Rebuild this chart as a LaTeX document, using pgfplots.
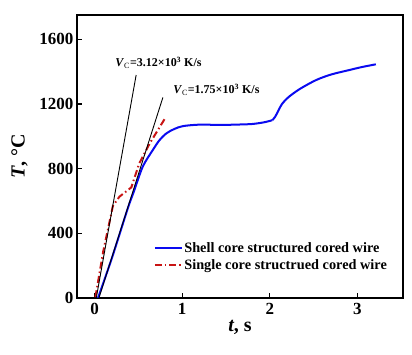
\documentclass[border=0pt]{standalone}
\usepackage{fontspec}
\setmainfont{Liberation Serif}
\usepackage{pgfplots}
\pgfplotsset{compat=1.18}

\definecolor{curveblue}{RGB}{10,10,240}
\definecolor{curvered}{RGB}{200,20,20}

\begin{document}
\begin{tikzpicture}
\begin{axis}[
    scale only axis,
    width=326pt, height=283pt,
    xmin=-0.2, xmax=3.52,
    ymin=0, ymax=1750,
    xtick={0,1,2,3},
    ytick={0,400,800,1200,1600},
    tick align=inside,
    xtick pos=bottom, ytick pos=left,
    major tick length=5pt,
    tick style={line width=1.3pt, black},
    axis line style={line width=1.6pt},
    /pgf/number format/assume math mode=true,
    /pgf/number format/1000 sep={},
    ticklabel style={font=\fontsize{17}{19}\selectfont\bfseries},
    xticklabel style={yshift=-2pt},
    xlabel={\textbf{\textit{t}, s}},
    ylabel={\textbf{\textit{T}, °C}},
    label style={font=\fontsize{20}{22}\selectfont},
    xlabel style={yshift=2pt},
    ylabel style={yshift=5pt},
    legend style={draw=none, fill=none, at={(rel axis cs:0.232,0.205)}, anchor=north west,
        font=\fontsize{14.3}{16}\selectfont\bfseries, row sep=2pt,
        inner sep=1pt, nodes={inner sep=1.5pt}},
    legend cell align=left,
    legend image code/.code={\draw[#1] (0pt,0pt) -- (27pt,0pt);},
]
\addplot[curveblue, line width=2pt, smooth, tension=0.5] coordinates {
    (0.04,0) (0.2,250) (0.38,555) (0.45,660) (0.55,812) (0.665,915)
    (0.74,975) (0.82,1018) (0.91,1045) (1.01,1063) (1.2,1072)
    (1.43,1070) (1.6,1072) (1.80,1076) (1.95,1088) (2.03,1100)
};
\addplot[curveblue, line width=2pt, smooth, tension=0.5, forget plot] coordinates {
    (2.03,1100) (2.06,1120) (2.09,1150) (2.14,1200) (2.22,1245)
    (2.35,1295) (2.53,1348) (2.70,1382) (2.91,1410) (3.05,1428) (3.21,1445)
};
\addplot[curvered, line width=2pt, dash pattern=on 7pt off 3pt on 1.5pt off 3pt] coordinates {
    (0.01,5) (0.1,290) (0.21,570) (0.285,627) (0.42,684)
    (0.51,832) (0.63,956) (0.80,1107)
};
\addplot[black, line width=0.9pt, forget plot] coordinates {(0.02,0) (0.475,1379)};
\addplot[black, line width=0.9pt, forget plot] coordinates {(0.05,0) (0.78,1240)};
\node[font=\fontsize{12}{14}\selectfont\bfseries] at (axis cs:0.73,1453)
    {\textit{V}$_{\mathrm{C}}$=3.12×10$^{\mathbf{3}}$ K/s};
\node[font=\fontsize{12}{14}\selectfont\bfseries] at (axis cs:1.39,1286)
    {\textit{V}$_{\mathrm{C}}$=1.75×10$^{\mathbf{3}}$ K/s};
\legend{Shell core structured cored wire, Single core structrued cored wire}
\end{axis}
\pgfresetboundingbox
\useasboundingbox ([shift={(-77pt,-57pt)}]current axis.south west)
    rectangle ([shift={(9pt,15pt)}]current axis.north east);
\end{tikzpicture}
\end{document}
